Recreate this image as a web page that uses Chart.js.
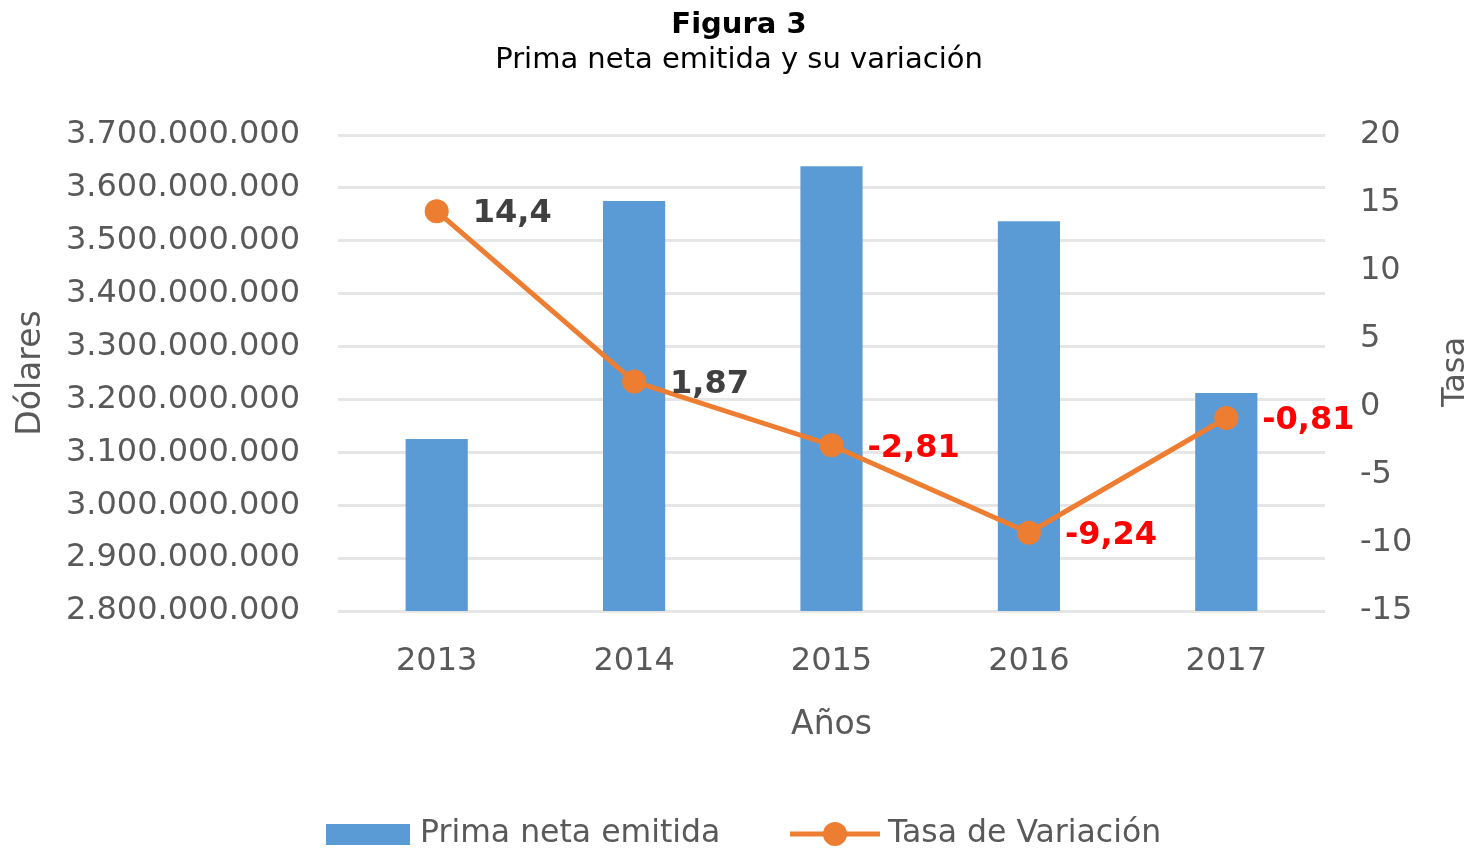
<!DOCTYPE html>
<html>
<head>
<meta charset="utf-8">
<script src="https://cdn.jsdelivr.net/npm/chart.js@4/dist/chart.umd.min.js"></script>
<style>
html,body{margin:0;padding:0;background:#fff;}
#wrap{width:1483px;height:852px;position:relative;}
</style>
</head>
<body>
<div id="wrap"><canvas id="c"></canvas></div>
<script>
const titleText = "Figura 3";
const subtitleText = "Prima neta emitida y su variación";
const years = ["2013", "2014", "2015", "2016", "2017"];
const primaNeta = [3125000000, 3575000000, 3641000000, 3537000000, 3212000000];
const tasaVariacion = [14.4, 1.87, -2.81, -9.24, -0.81];
const tasaLabels = ["14,4", "1,87", "-2,81", "-9,24", "-0,81"];
const seriesNames = ["Prima neta emitida", "Tasa de Variación"];
const axisTitles = { left: "Dólares", right: "Tasa", bottom: "Años" };

const BLUE = "#5b9bd5";
const ORANGE = "#ed7d31";
const GRAY = "#595959";
const FONT = "'DejaVu Sans', Verdana, sans-serif";

function fmtThousands(v) {
  return String(Math.round(v)).replace(/\B(?=(\d{3})+(?!\d))/g, ".");
}

const customDraw = {
  id: "customDraw",
  afterDatasetsDraw(chart) {
    const ctx = chart.ctx;
    const meta = chart.getDatasetMeta(1);
    ctx.save();
    ctx.font = "bold 32px " + FONT;
    ctx.textAlign = "left";
    ctx.textBaseline = "middle";
    meta.data.forEach((pt, i) => {
      ctx.fillStyle = tasaVariacion[i] < 0 ? "#ff0000" : "#404040";
      ctx.fillText(tasaLabels[i], pt.x + 36, pt.y + 3);
    });
    ctx.restore();
  },
  afterDraw(chart) {
    const ctx = chart.ctx;
    ctx.save();
    ctx.fillStyle = "#000";
    ctx.textAlign = "center";
    ctx.textBaseline = "middle";
    ctx.font = "bold 29px " + FONT;
    ctx.fillText(titleText, 739, 25);
    ctx.font = "29px " + FONT;
    ctx.fillText(subtitleText, 739, 60);
    ctx.save();
    ctx.translate(1456, 372);
    ctx.rotate(-Math.PI / 2);
    ctx.fillStyle = GRAY;
    ctx.font = "32px " + FONT;
    ctx.fillText(axisTitles.right, 0, 0);
    ctx.restore();
    const ly = 834;
    ctx.fillStyle = BLUE;
    ctx.fillRect(326, 824, 84, 21);
    ctx.fillStyle = GRAY;
    ctx.font = "31.5px " + FONT;
    ctx.textAlign = "left";
    ctx.fillText(seriesNames[0], 420, ly);
    ctx.strokeStyle = ORANGE;
    ctx.lineWidth = 5;
    ctx.beginPath();
    ctx.moveTo(790, ly);
    ctx.lineTo(880, ly);
    ctx.stroke();
    ctx.fillStyle = ORANGE;
    ctx.beginPath();
    ctx.arc(835, ly, 12, 0, Math.PI * 2);
    ctx.fill();
    ctx.fillStyle = GRAY;
    ctx.fillText(seriesNames[1], 888, ly);
    ctx.restore();
  }
};

new Chart(document.getElementById("c"), {
  type: "bar",
  data: {
    labels: years,
    datasets: [
      {
        type: "bar",
        label: seriesNames[0],
        data: primaNeta,
        backgroundColor: BLUE,
        yAxisID: "y",
        order: 2,
        barPercentage: 0.315,
        categoryPercentage: 1
      },
      {
        type: "line",
        label: seriesNames[1],
        data: tasaVariacion,
        borderColor: ORANGE,
        backgroundColor: ORANGE,
        borderWidth: 5,
        pointRadius: 12,
        pointHoverRadius: 12,
        pointBackgroundColor: ORANGE,
        pointBorderWidth: 0,
        tension: 0,
        yAxisID: "y1",
        order: 1
      }
    ]
  },
  options: {
    responsive: true,
    maintainAspectRatio: false,
    animation: false,
    layout: { padding: { top: 135, bottom: 101, left: 0, right: 0 } },
    plugins: {
      legend: { display: false },
      title: { display: false },
      tooltip: { enabled: false }
    },
    scales: {
      x: {
        grid: { display: false, drawTicks: false },
        border: { display: false },
        ticks: { color: GRAY, font: { family: FONT, size: 32 }, padding: 31 },
        title: {
          display: true, text: axisTitles.bottom, color: GRAY,
          font: { family: FONT, size: 33 }, padding: { top: 0, bottom: 6 }
        },
        afterFit(s) { s.height = 140; }
      },
      y: {
        position: "left",
        min: 2800000000, max: 3700000000,
        ticks: {
          stepSize: 100000000, color: GRAY, font: { family: FONT, size: 32 }, padding: 38,
          callback: (v) => fmtThousands(v)
        },
        grid: { color: "#e6e6e6", lineWidth: 3, drawTicks: false },
        border: { display: false },
        title: {
          display: true, text: axisTitles.left, color: GRAY,
          font: { family: FONT, size: 33 }, padding: { top: 12, bottom: 0 }
        },
        afterFit(s) { s.width = 338; }
      },
      y1: {
        position: "right",
        min: -15, max: 20,
        ticks: { stepSize: 5, color: GRAY, font: { family: FONT, size: 32 }, padding: 35 },
        grid: { display: false, drawTicks: false },
        border: { display: false },
        afterFit(s) { s.width = 158; }
      }
    }
  },
  plugins: [customDraw]
});
</script>
</body>
</html>
